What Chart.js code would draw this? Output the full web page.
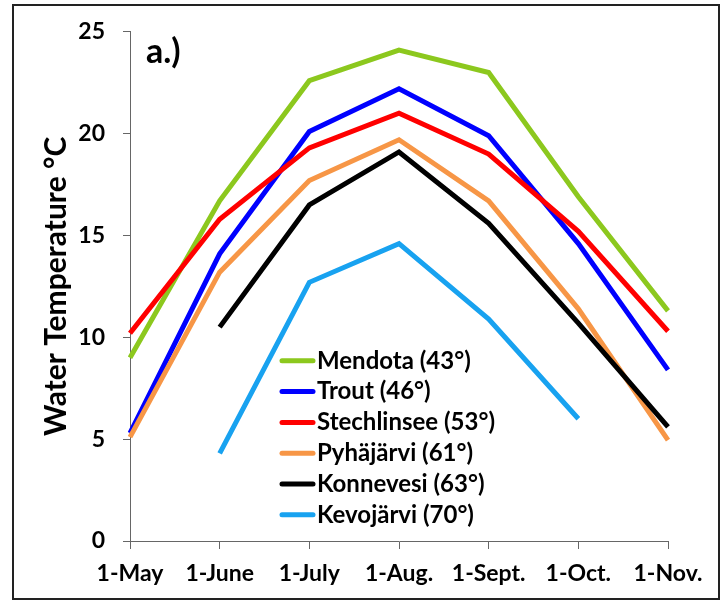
<!DOCTYPE html>
<html>
<head>
<meta charset="utf-8">
<script src="https://cdn.jsdelivr.net/npm/chart.js@4"></script>
<style>
  html, body { margin: 0; padding: 0; background: #fff; }
  #wrap { position: relative; width: 722px; height: 602px; }
  #frame { position: absolute; left: 12px; top: 4px; width: 704px; height: 592px; border: 2px solid #222; pointer-events: none; }
  canvas { position: absolute; left: 0; top: 0; }
</style>
</head>
<body>
<div id="wrap">
  <canvas id="myChart" width="722" height="602"></canvas>
  <div id="frame"></div>
</div>
<script>
// Categorías del eje x
const months = ['1-May', '1-June', '1-July', '1-Aug.', '1-Sept.', '1-Oct.', '1-Nov.'];

// Nombres de los lagos (con latitud)
const lakes = ['Mendota (43°)', 'Trout (46°)', 'Stechlinsee (53°)', 'Pyhäjärvi (61°)', 'Konnevesi (63°)', 'Kevojärvi (70°)'];
const colors = ['#8cc81e', '#0000ff', '#ff0000', '#f79646', '#000000', '#18a2f0'];

// Temperaturas
const mendota = [9.0, 16.7, 22.6, 24.1, 23.0, 16.9, 11.3];
const trout = [5.3, 14.1, 20.1, 22.2, 19.9, 14.6, 8.4];
const stechlinsee = [10.2, 15.8, 19.3, 21.0, 19.0, 15.2, 10.3];
const pyhajarvi = [5.1, 13.2, 17.7, 19.7, 16.7, 11.4, 4.95];
const konnevesi = [null, 10.5, 16.5, 19.1, 15.6, 10.7, 5.6];
const kevojarvi = [null, 4.3, 12.7, 14.6, 10.9, 6.0, null];

const series = [mendota, trout, stechlinsee, pyhajarvi, konnevesi, kevojarvi];

const fontFamily = 'Lato, "Open Sans", sans-serif';

// Leyenda y etiqueta "a.)" dibujadas dentro del área del gráfico
const insideLabels = {
    id: 'insideLabels',
    afterDraw(chart) {
        const c = chart.ctx;
        const area = chart.chartArea;
        c.save();
        c.fillStyle = '#000';
        c.textBaseline = 'middle';
        c.font = 'bold 34px ' + fontFamily;
        c.fillText('a.)', area.left + 16, area.top + 20);

        c.font = 'bold 24px ' + fontFamily;
        lakes.forEach((name, i) => {
            const y = area.top + 329 + i * 30.8;
            c.strokeStyle = colors[i];
            c.lineWidth = 5;
            c.lineCap = 'round';
            c.beginPath();
            c.moveTo(area.left + 152, y);
            c.lineTo(area.left + 183, y);
            c.stroke();
            c.fillText(name, area.left + 187, y);
        });
        c.restore();
    }
};

const ctx = document.getElementById('myChart').getContext('2d');

const chart = new Chart(ctx, {
    type: 'line',
    data: {
        labels: months,
        datasets: series.map((values, i) => ({
            label: lakes[i],
            data: values,
            borderColor: colors[i],
            backgroundColor: colors[i],
            borderWidth: 5,
            pointRadius: 0,
            tension: 0,
            spanGaps: false,
            order: series.length - i // las series posteriores encima, como en Excel
        }))
    },
    options: {
        responsive: false,
        animation: false,
        events: [],
        layout: {
            padding: { left: 0, right: 54, top: 30, bottom: 0 }
        },
        scales: {
            x: {
                offset: false,
                grid: { drawOnChartArea: false, drawTicks: true, tickLength: 8, tickColor: '#666' },
                border: { display: true, color: '#666', width: 1 },
                ticks: {
                    color: '#000',
                    font: { family: fontFamily, size: 23, weight: 'bold' },
                    padding: 11,
                    maxRotation: 0,
                    autoSkip: false
                },
                afterFit(scale) { scale.height = 61; }
            },
            y: {
                min: 0,
                max: 25,
                grid: { drawOnChartArea: false, drawTicks: true, tickLength: 7, tickColor: '#666' },
                border: { display: true, color: '#666', width: 1 },
                ticks: {
                    stepSize: 5,
                    color: '#000',
                    font: { family: fontFamily, size: 23, weight: 'bold' },
                    padding: 18
                },
                title: {
                    display: true,
                    text: 'Water Temperature °C',
                    color: '#000',
                    font: { family: fontFamily, size: 30, weight: 'bold' },
                    padding: { top: 38, bottom: 0 }
                },
                afterFit(scale) { scale.width = 130; }
            }
        },
        plugins: {
            legend: { display: false },
            tooltip: { enabled: false }
        }
    },
    plugins: [insideLabels]
});
</script>
</body>
</html>
